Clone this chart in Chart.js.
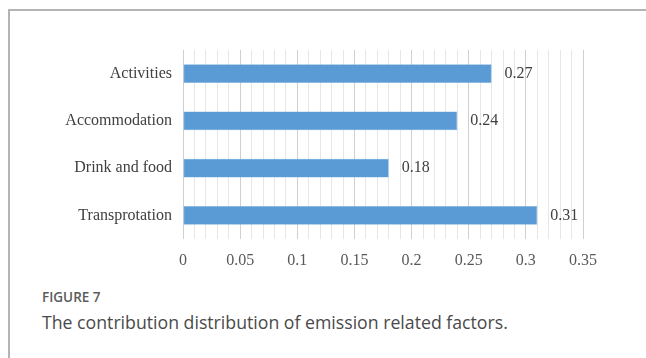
<!DOCTYPE html>
<html>
<head>
<meta charset="utf-8">
<script src="https://cdn.jsdelivr.net/npm/chart.js@4.4.1/dist/chart.umd.min.js"></script>
<style>
  html, body { margin: 0; padding: 0; background: #ffffff; }
  body { width: 646px; height: 358px; position: relative; overflow: hidden; }
  #frame {
    position: absolute; left: 8px; top: 9px; width: 660px; height: 380px;
    border-top: 2px solid #b4b4b4; border-left: 2px solid #b4b4b4;
  }
  #plot { position: absolute; left: 0; top: 0; }
  #figno {
    position: absolute; left: 42px; top: 288px;
    font-family: "Open Sans", sans-serif; font-weight: 600; font-size: 13.5px;
    color: #5b5b5b;
  }
  #figcap {
    position: absolute; left: 42px; top: 310px;
    font-family: "Open Sans", sans-serif; font-size: 17.7px;
    color: #4a4a4a; white-space: nowrap;
  }
</style>
</head>
<body>
<div id="frame"></div>
<canvas id="plot" width="646" height="285"></canvas>
<div id="figno">FIGURE 7</div>
<div id="figcap">The contribution distribution of emission related factors.</div>
<script>
// Emission factors and their contribution shares
const categories = ["Activities", "Accommodation", "Drink and food", "Transprotation"];
const contributions = [0.27, 0.24, 0.18, 0.31];
const axisMax = 0.35;
const minorStep = 0.01;

const serif = "'Liberation Serif', 'Times New Roman', serif";

// Writes each bar's value just past its end
const barValueLabels = {
  id: "barValueLabels",
  afterDatasetsDraw(chart) {
    const { ctx } = chart;
    const meta = chart.getDatasetMeta(0);
    ctx.save();
    ctx.font = "16px " + serif;
    ctx.fillStyle = "#404040";
    ctx.textAlign = "left";
    ctx.textBaseline = "middle";
    meta.data.forEach((bar, i) => {
      ctx.fillText(String(chart.data.datasets[0].data[i]), bar.x + 13, bar.y);
    });
    ctx.restore();
  }
};

const isMajor = v => Math.round(v * 100) % 5 === 0;

new Chart(document.getElementById("plot"), {
  type: "bar",
  data: {
    labels: categories,
    datasets: [{
      data: contributions,
      backgroundColor: "#5b9bd5",
      borderColor: "#7eb2e0",
      borderWidth: 0.6,
      borderSkipped: false,
      barPercentage: 0.8,
      categoryPercentage: 0.5
    }]
  },
  options: {
    indexAxis: "y",
    responsive: false,
    animation: false,
    layout: { padding: { left: 0, right: 63, top: 50, bottom: 10 } },
    plugins: { legend: { display: false }, tooltip: { enabled: false } },
    scales: {
      x: {
        min: 0,
        max: axisMax,
        border: { display: false },
        grid: {
          drawTicks: false,
          lineWidth: 1,
          color: ctx => isMajor(ctx.tick.value) ? "#d0d0d0" : "#e6e6e6"
        },
        ticks: {
          stepSize: minorStep,
          autoSkip: false,
          maxRotation: 0,
          padding: 12,
          color: "#595959",
          font: { family: serif, size: 16 },
          callback: v => isMajor(v) ? String(Math.round(v * 100) / 100) : ""
        },
        afterFit: s => { s.height = 36; }
      },
      y: {
        border: { display: false },
        grid: { display: false, drawTicks: false },
        ticks: {
          padding: 11,
          color: "#404040",
          font: { family: serif, size: 16 }
        },
        afterFit: s => { s.width = 183; }
      }
    }
  },
  plugins: [barValueLabels]
});
</script>
</body>
</html>
